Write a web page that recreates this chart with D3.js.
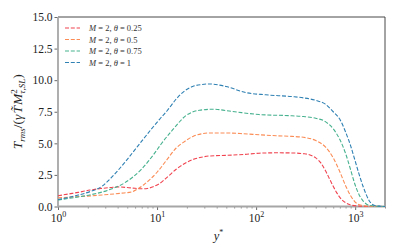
<!DOCTYPE html>
<html>
<head>
<meta charset="utf-8">
<script src="https://cdn.jsdelivr.net/npm/d3@7"></script>
<style>
  body { margin: 0; background: #fff; }
  svg, svg text { font-family: "Liberation Serif", "DejaVu Serif", serif; }
  .tick text { font-size: 11.5px; fill: #222; }
</style>
</head>
<body>
<div id="chart"></div>
<script>
// afmetingen van de figuur
const width = 399;
const height = 249;
const margin = {top: 17, right: 14, bottom: 42.5, left: 58};

// waarden (y* en T_rms per reeks)
const thetas = ["0.25", "0.5", "0.75", "1"];
const colors = ["#f0434f", "#fb8c55", "#46b18e", "#2f80b3"];

const yPlus025 = [1, 1.3, 1.6, 2.1, 2.7, 3.4, 4, 5, 6, 7, 8, 9, 10.5, 13, 15.6, 19, 23, 28, 34, 50, 75, 107, 160, 230, 300, 350, 400, 450, 500, 550, 600, 650, 700, 800, 900, 1100, 1500, 2000];
const trms025  = [0.85, 1.0, 1.12, 1.3, 1.42, 1.5, 1.55, 1.5, 1.44, 1.4, 1.43, 1.55, 1.8, 2.4, 2.95, 3.4, 3.72, 3.9, 4.0, 4.05, 4.12, 4.22, 4.25, 4.24, 4.18, 4.08, 3.85, 3.45, 2.85, 2.2, 1.6, 1.1, 0.72, 0.3, 0.12, 0.03, 0.0, 0.0];

const yPlus05 = [1, 1.5, 2.2, 3.2, 4.3, 5.5, 6.4, 7.4, 8.5, 10.1, 12.7, 15.6, 19, 23, 28, 34, 50, 75, 107, 160, 230, 300, 400, 500, 600, 700, 800, 900, 1000, 1150, 1400, 2000];
const trms05  = [0.68, 0.77, 0.85, 0.95, 1.05, 1.15, 1.4, 1.74, 2.15, 2.75, 3.75, 4.63, 5.15, 5.55, 5.75, 5.82, 5.82, 5.76, 5.68, 5.6, 5.55, 5.48, 5.22, 4.72, 3.85, 2.75, 1.65, 0.85, 0.35, 0.1, 0.02, 0.0];

const yPlus075 = [1, 1.5, 2.2, 3.2, 4.7, 6.9, 9.4, 11, 14.4, 19.6, 26.8, 36.6, 58, 107, 230, 300, 400, 500, 600, 700, 800, 900, 1000, 1100, 1200, 1350, 1600, 2000];
const trms075  = [0.52, 0.72, 0.95, 1.29, 1.87, 2.92, 4.2, 4.95, 6.08, 7.2, 7.62, 7.7, 7.52, 7.28, 7.18, 7.12, 6.98, 6.72, 6.15, 5.3, 4.2, 2.9, 1.7, 0.9, 0.45, 0.12, 0.02, 0.0];

const yPlus1 = [1, 1.5, 2.16, 2.72, 3.43, 4.68, 6.36, 8.66, 10.6, 12.7, 15.6, 19, 22.9, 28, 33.6, 49.6, 78.6, 125, 230, 300, 400, 500, 600, 700, 800, 900, 1000, 1100, 1200, 1300, 1400, 1550, 1800, 2000];
const trms1  = [0.55, 0.85, 1.21, 1.55, 2.26, 3.45, 4.76, 6.08, 6.9, 7.6, 8.5, 9.15, 9.5, 9.65, 9.7, 9.5, 9.02, 8.84, 8.7, 8.6, 8.4, 8.1, 7.5, 6.9, 5.9, 4.8, 3.6, 2.5, 1.6, 0.9, 0.4, 0.1, 0.02, 0.0];

const allX = [yPlus025, yPlus05, yPlus075, yPlus1];
const allY = [trms025, trms05, trms075, trms1];

const yTicks = [0, 2.5, 5, 7.5, 10, 12.5, 15];
const xMajor = [1, 10, 100, 1000];

const innerW = width - margin.left - margin.right;
const innerH = height - margin.top - margin.bottom;

const svg = d3.select("#chart")
    .append("svg")
    .attr("width", width)
    .attr("height", height)
  .append("g")
    .attr("transform", "translate(" + margin.left + "," + margin.top + ")");

// schalen
const xScale = d3.scaleLog().domain([1, 2000]).range([0, innerW]);
const yScale = d3.scaleLinear().domain([0, 15]).range([innerH, 0]);

// minor ticks op de x-as
const xMinor = [];
for (let d = 1; d <= 1000; d *= 10) {
  for (let k = 2; k <= 9; k++) {
    if (d * k <= 2000) xMinor.push(d * k);
  }
}

svg.append("g")
    .attr("transform", "translate(0," + innerH + ")")
    .call(d3.axisBottom(xScale).tickValues(xMinor).tickSize(2).tickFormat(""))
    .call(g => g.select(".domain").remove())
    .call(g => g.selectAll("line").attr("stroke", "#444").attr("stroke-width", 0.6));

const xAxis = svg.append("g")
    .attr("transform", "translate(0," + innerH + ")")
    .call(d3.axisBottom(xScale).tickValues(xMajor).tickSize(3.5).tickPadding(2).tickFormat(""));
xAxis.attr("font-family", null).attr("font-size", null);
xAxis.select(".domain").remove();
xAxis.selectAll("line").attr("stroke", "#444").attr("stroke-width", 0.8);
xAxis.selectAll(".tick").append("text")
    .attr("y", 15)
    .attr("text-anchor", "middle")
    .attr("fill", "#222")
    .each(function(d) {
      const t = d3.select(this);
      t.append("tspan").text("10");
      t.append("tspan").attr("dy", -5).attr("font-size", "8px").text(Math.round(Math.log10(d)));
    });

const yAxis = svg.append("g")
    .call(d3.axisLeft(yScale).tickValues(yTicks).tickSize(3.5).tickPadding(2)
      .tickFormat(d3.format(".1f")));
yAxis.attr("font-family", null).attr("font-size", null);
yAxis.select(".domain").remove();
yAxis.selectAll("line").attr("stroke", "#444").attr("stroke-width", 0.8);

// assen-kader
svg.append("line").attr("x1", 0).attr("x2", innerW).attr("y1", 0).attr("y2", 0)
    .attr("stroke", "#333").attr("stroke-width", 0.9);
svg.append("line").attr("x1", innerW).attr("x2", innerW).attr("y1", 0).attr("y2", innerH)
    .attr("stroke", "#333").attr("stroke-width", 0.9);
svg.append("line").attr("x1", 0).attr("x2", 0).attr("y1", 0).attr("y2", innerH)
    .attr("stroke", "#a6a6a6").attr("stroke-width", 1.8);
svg.append("line").attr("x1", 0).attr("x2", innerW).attr("y1", innerH).attr("y2", innerH)
    .attr("stroke", "#a6a6a6").attr("stroke-width", 1.8);

// lijnen
const line = d3.line()
    .x(d => xScale(d[0]))
    .y(d => yScale(d[1]))
    .curve(d3.curveMonotoneX);

svg.append("clipPath").attr("id", "clip")
  .append("rect").attr("x", 0).attr("y", 0).attr("width", innerW).attr("height", innerH + 1);

thetas.forEach(function(th, i) {
  const data = allX[i].map((x, j) => [x, allY[i][j]]);
  svg.append("path")
      .datum(data)
      .attr("clip-path", "url(#clip)")
      .attr("fill", "none")
      .attr("stroke", colors[i])
      .attr("stroke-width", 1.1)
      .attr("stroke-dasharray", "4,1.8")
      .attr("d", line);
});

// legenda
const legend = svg.append("g").attr("transform", "translate(7,11)");
thetas.forEach(function(th, i) {
  const row = legend.append("g").attr("transform", "translate(0," + (i * 11.5) + ")");
  row.append("line")
      .attr("x1", 0).attr("x2", 15).attr("y1", 0).attr("y2", 0)
      .attr("stroke", colors[i]).attr("stroke-width", 1.1)
      .attr("stroke-dasharray", "4,1.8");
  const txt = row.append("text")
      .attr("x", 24).attr("y", 3)
      .attr("font-size", "8.5px")
      .attr("fill", "#333");
  txt.append("tspan").attr("font-style", "italic").text("M");
  txt.append("tspan").text(" = 2, ");
  txt.append("tspan").attr("font-style", "italic").text("θ");
  txt.append("tspan").text(" = " + th);
});

// as-labels
svg.append("text")
    .attr("x", innerW / 2 - 3)
    .attr("y", innerH + 33)
    .attr("text-anchor", "middle")
    .attr("font-size", "12.5px")
    .attr("fill", "#222")
    .call(t => {
      t.append("tspan").attr("font-style", "italic").text("y");
      t.append("tspan").attr("dy", -5).attr("font-size", "8px").text("*");
    });

const ylab = svg.append("text")
    .attr("transform", "translate(-36," + (innerH / 2) + ") rotate(-90)")
    .attr("text-anchor", "middle")
    .attr("font-size", "13.5px")
    .attr("fill", "#222");
ylab.append("tspan").attr("font-style", "italic").text("T");
ylab.append("tspan").attr("font-style", "italic").attr("font-size", "9px").attr("dy", 3).text("rms");
ylab.append("tspan").attr("dy", -3).text("/(");
ylab.append("tspan").attr("font-style", "italic").text("γ");
ylab.append("tspan").attr("font-style", "italic").attr("dx", 1).text("T\u0303");
ylab.append("tspan").attr("font-style", "italic").attr("dx", 1).text("M");
ylab.append("tspan").attr("font-size", "9px").attr("dy", -5).text("2");
ylab.append("tspan").attr("font-style", "italic").attr("font-size", "9px").attr("dx", -4.5).attr("dy", 8).text("τ,SL");
ylab.append("tspan").attr("dy", -3).text(")");
</script>
</body>
</html>
